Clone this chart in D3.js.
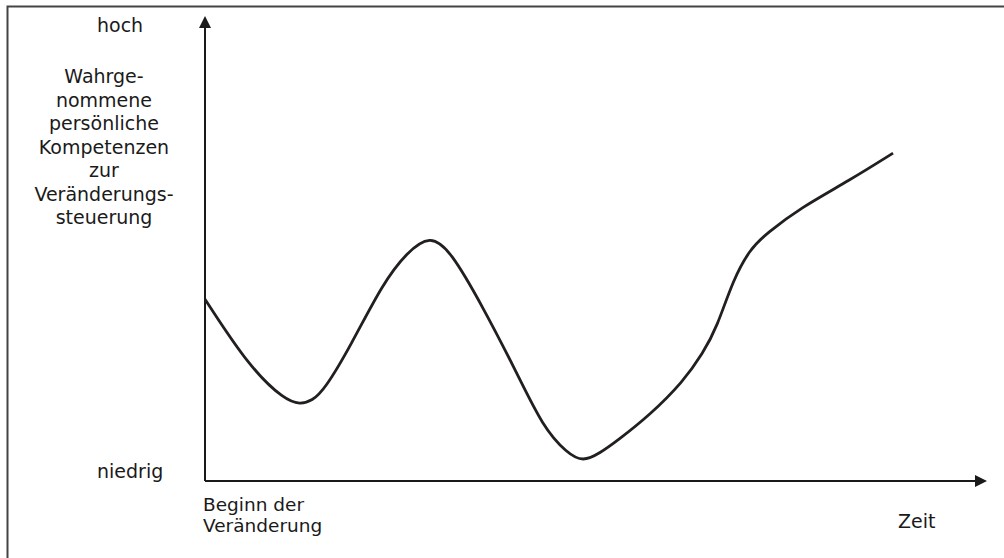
<!DOCTYPE html>
<html><head><meta charset="utf-8">
<script src="https://cdn.jsdelivr.net/npm/d3@7"></script>
<style>body{margin:0;background:#fff;} text{font-family:"DejaVu Sans",Verdana,sans-serif;fill:#1a1a1a;}</style>
</head><body>
<svg id="c" width="1004" height="558"></svg>
<script>
// Curve data: time (0..100) and perceived competence (0..100)
const timePoints = [0, 5.77, 10.26, 12.18, 13.72, 15.38, 18.59, 22.82, 25.9, 28.85, 31.41, 35.64, 40.0, 43.33, 46.41, 48.46, 50.64, 52.82, 57.05, 61.28, 63.85, 65.64, 67.69, 69.87, 72.05, 76.28, 82.69, 88.21];
const competence = [39.1, 24.3, 17.4, 16.5, 17.2, 19.8, 28.8, 42.6, 49.2, 52.9, 49.7, 37.4, 23.2, 11.6, 6.0, 4.1, 6.0, 8.6, 14.2, 21.3, 27.5, 33.1, 43.2, 49.9, 53.3, 58.7, 64.7, 70.5];
const yTopLabel = ["hoch"];
const yBottomLabel = ["niedrig"];
const yTitleLines = ["Wahrge-", "nommene", "persönliche", "Kompetenzen", "zur", "Veränderungs-", "steuerung"];
const xStartLabel = ["Beginn der", "Veränderung"];
const xEndLabel = ["Zeit"];

const svg = d3.select("#c");
const x = d3.scaleLinear().domain([0, 100]).range([205, 985]);
const y = d3.scaleLinear().domain([0, 100]).range([481, 16]);

// frame
svg.append("path").attr("d", "M7.5,560 L7.5,6.5 L1010,6.5")
  .attr("fill", "none").attr("stroke", "#444").attr("stroke-width", 2);

// axes
const ax = "#1a1a1a";
svg.append("line").attr("x1", x(0)).attr("x2", x(0)).attr("y1", y(0)).attr("y2", y(100) + 10)
  .attr("stroke", ax).attr("stroke-width", 2);
svg.append("line").attr("x1", x(0)).attr("x2", x(100) - 10).attr("y1", y(0)).attr("y2", y(0))
  .attr("stroke", ax).attr("stroke-width", 2);
// arrowheads
svg.append("path").attr("d", `M${x(0)},${y(100)} L${x(0)-6},${y(100)+12} L${x(0)+6},${y(100)+12} Z`).attr("fill", ax);
svg.append("path").attr("d", `M${x(100)+2},${y(0)} L${x(100)-10},${y(0)-6} L${x(100)-10},${y(0)+6} Z`).attr("fill", ax);

// curve
const data = timePoints.map((t, i) => [t, competence[i]]);
svg.append("path").datum(data)
  .attr("d", d3.line().x(d => x(d[0])).y(d => y(d[1])).curve(d3.curveBasis))
  .attr("fill", "none").attr("stroke", "#231f20").attr("stroke-width", 2.8).attr("stroke-linecap", "butt");

// labels
const fs = 19;
svg.append("text").attr("x", 97).attr("y", 32).attr("font-size", fs).text(yTopLabel[0]);
svg.append("text").attr("x", 97).attr("y", 478).attr("font-size", fs).text(yBottomLabel[0]);
svg.append("g").selectAll("text").data(yTitleLines).join("text")
  .attr("x", 104).attr("y", (d, i) => 83 + i * 23.5).attr("text-anchor", "middle").attr("font-size", fs).text(d => d);
svg.append("g").selectAll("text").data(xStartLabel).join("text")
  .attr("x", 203).attr("y", (d, i) => 511 + i * 21).attr("font-size", 18.5).text(d => d);
svg.append("text").attr("x", 898).attr("y", 528).attr("font-size", fs).text(xEndLabel[0]);
</script>
</body></html>
